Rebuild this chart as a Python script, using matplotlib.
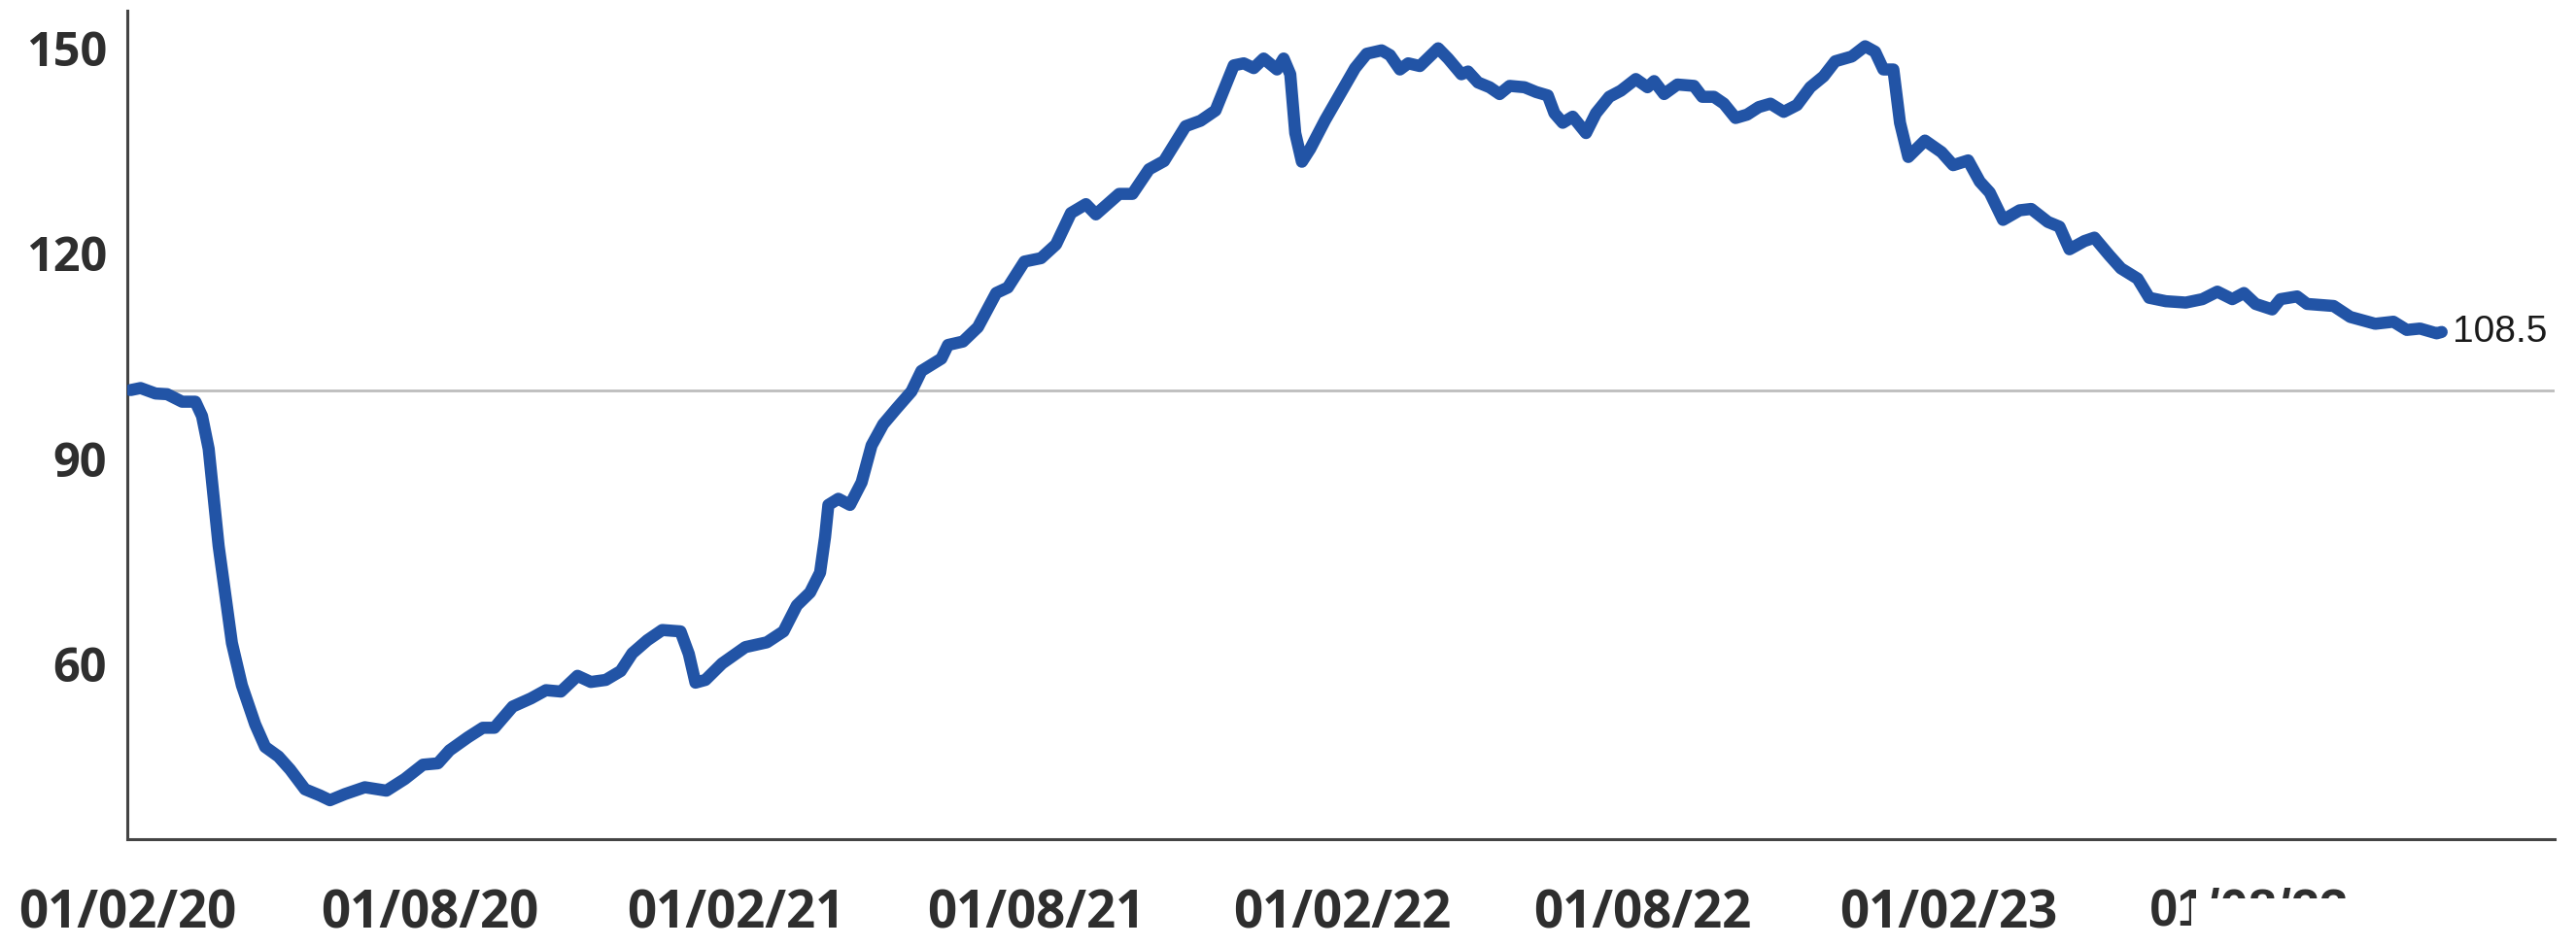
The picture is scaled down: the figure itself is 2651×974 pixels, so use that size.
import matplotlib
matplotlib.use("Agg")
import matplotlib.pyplot as plt
import matplotlib.dates as mdates
from matplotlib.patches import Rectangle
import pandas as pd

# series: days since 01/02/20 and index value
days = [2, 8, 17, 24, 33, 41, 45, 49, 52, 55, 59, 63, 69, 77, 83, 91, 98, 107,
        116, 122, 131, 143, 156, 167, 178, 187, 194, 205, 214, 221, 232, 243,
        252, 261, 271, 279, 288, 297, 304, 313, 322, 333, 338, 342, 348, 358,
        372, 385, 395, 403, 411, 417, 420, 422, 428, 435, 442, 448, 455, 463,
        472, 478, 490, 494, 503, 512, 523, 530, 540, 550, 559, 568, 577, 583,
        597, 605, 615, 624, 637, 646, 655, 660, 666, 672, 678, 684, 692, 696,
        700, 703, 707, 712, 721, 730, 739, 746, 755, 760, 766, 771, 778, 789,
        795, 803, 807, 813, 820, 826, 832, 841, 848, 855, 859, 864, 870, 878,
        884, 892, 899, 908, 915, 919, 925, 933, 943, 948, 955, 961, 968, 975,
        982, 989, 997, 1005, 1013, 1021, 1028, 1038, 1046, 1052, 1057, 1063,
        1067, 1072, 1082, 1092, 1099, 1108, 1115, 1121, 1129, 1139, 1146, 1156,
        1163, 1169, 1178, 1184, 1193, 1200, 1210, 1217, 1227, 1239, 1249, 1258,
        1267, 1274, 1281, 1291, 1296, 1306, 1312, 1328, 1338, 1353, 1364, 1372,
        1380, 1390, 1393]
values = [100.0, 100.3, 99.5, 99.4, 98.3, 98.3, 96.2, 91.4, 84.3, 77.2, 70.1,
          63.0, 56.8, 51.1, 47.8, 46.4, 44.5, 41.6, 40.7, 40.0, 40.9, 41.9,
          41.4, 43.1, 45.2, 45.4, 47.3, 49.2, 50.6, 50.6, 53.7, 54.9, 56.1,
          55.9, 58.2, 57.3, 57.6, 58.9, 61.5, 63.4, 64.9, 64.7, 61.4, 57.2,
          57.6, 60.0, 62.4, 63.1, 64.7, 68.5, 70.4, 73.3, 78.5, 83.2, 84.1,
          83.2, 86.5, 91.9, 95.0, 97.3, 99.8, 102.8, 104.6, 106.6, 107.1,
          109.2, 114.2, 115.0, 118.8, 119.3, 121.3, 125.9, 127.2, 125.7,
          128.7, 128.7, 132.3, 133.5, 138.6, 139.4, 140.9, 143.9, 147.5,
          147.8, 147.1, 148.5, 146.9, 148.5, 146.2, 137.6, 133.4, 135.3,
          139.5, 143.3, 147.1, 149.2, 149.7, 149.0, 146.9, 147.8, 147.4,
          150.0, 148.5, 146.2, 146.6, 145.0, 144.3, 143.3, 144.5, 144.3,
          143.6, 143.1, 140.5, 139.1, 140.0, 137.6, 140.5, 142.9, 143.8,
          145.5, 144.3, 145.2, 143.3, 144.7, 144.5, 142.9, 142.9, 141.9,
          139.8, 140.3, 141.4, 141.9, 140.7, 141.7, 144.3, 145.9, 148.1,
          148.8, 150.3, 149.5, 146.9, 146.9, 139.1, 134.1, 136.5, 134.8,
          132.9, 133.6, 130.5, 128.9, 124.9, 126.3, 126.5, 124.6, 123.9,
          120.6, 121.8, 122.3, 119.7, 117.8, 116.3, 113.5, 113.0, 112.8,
          113.3, 114.4, 113.3, 114.2, 112.6, 111.8, 113.3, 113.7, 112.6,
          112.3, 110.7, 109.7, 110.0, 108.8, 109.0, 108.3, 108.5]

start = pd.Timestamp("2020-02-01")
end = pd.Timestamp("2024-02-01")
tick_dates = ["2020-02-01", "2020-08-01", "2021-02-01", "2021-08-01",
              "2022-02-01", "2022-08-01", "2023-02-01", "2023-08-01"]
y_ticks = [60, 90, 120, 150]
last_label = "108.5"

dates = start + pd.to_timedelta(days, unit="D")

fig = plt.figure(figsize=(26.51, 9.74), dpi=100)
ax = fig.add_axes([0.0494, 0.1129, 0.9423, 0.8758])

ax.axhline(100, color="#bdbdbd", lw=2, zorder=1)
ax.plot(dates, values, color="#2254a6", lw=9, solid_capstyle="round",
        solid_joinstyle="round", zorder=3)
ax.annotate(last_label, xy=(dates[-1], values[-1]), xytext=(8, 0),
            textcoords="offset points", va="center", ha="left",
            fontsize=28, family="Liberation Sans", color="#1a1a1a")

ax.set_xlim(start, end)
ax.set_ylim(34.3, 155.5)

ax.set_xticks(pd.to_datetime(tick_dates))
ax.xaxis.set_major_formatter(mdates.DateFormatter("%d/%m/%y"))
ax.set_yticks(y_ticks)

ax.tick_params(axis="both", length=0, colors="#2e2e2e")
ax.tick_params(axis="x", pad=36, labelsize=38)
ax.tick_params(axis="y", pad=15, labelsize=35)
for lab in ax.get_xticklabels() + ax.get_yticklabels():
    lab.set_fontfamily("Open Sans")
    lab.set_fontweight("bold")
ax.get_xticklabels()[-1].set_fontfamily("Liberation Sans")

for side in ["top", "right"]:
    ax.spines[side].set_visible(False)
for side in ["left", "bottom"]:
    ax.spines[side].set_color("#444444")
    ax.spines[side].set_linewidth(2.2)

# the last date label is partly hidden in the original
fig.add_artist(Rectangle((0.8506, 0.0), 0.068, 0.0503, transform=fig.transFigure,
                         facecolor="white", edgecolor="none", zorder=10))

fig.savefig("out.png", dpi=100)
